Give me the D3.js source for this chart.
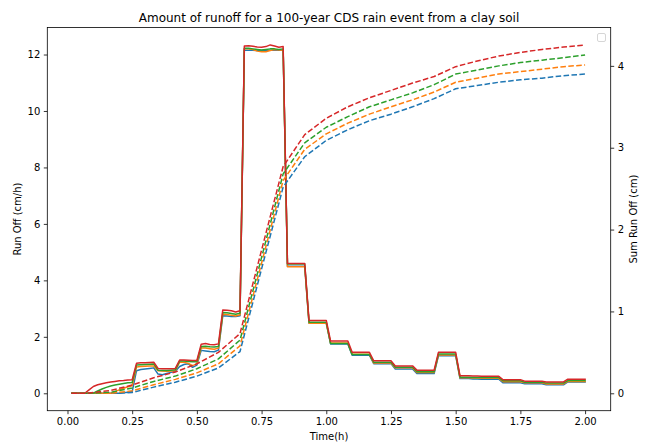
<!DOCTYPE html>
<html><head><meta charset="utf-8">
<script src="https://cdn.jsdelivr.net/npm/d3@7"></script>
<style>
body{margin:0;background:#fff}
svg{display:block}
text{font-family:"DejaVu Sans",sans-serif;fill:#000}
</style>
</head><body>
<svg id="chart" width="657" height="446"></svg>
<script>
// ---------- data ----------
const titleText = "Amount of runoff for a 100-year CDS rain event from a clay soil";
// simulation time (h): one-minute steps
const times = d3.range(1, 121).map(i => i / 60);
// cumulative values are read at 5-minute block ends
const sumTimes = [1/60, 1/12, 2/12, 3/12, 4/12, 5/12, 6/12, 7/12, 8/12, 9/12, 10/12, 11/12, 1,
  13/12, 14/12, 15/12, 16/12, 17/12, 18/12, 19/12, 20/12, 21/12, 22/12, 23/12, 2];
const xTicks = [0, 0.25, 0.5, 0.75, 1.0, 1.25, 1.5, 1.75, 2.0];
const yLeftTicks = [0, 2, 4, 6, 8, 10, 12];
const yRightTicks = [0, 1, 2, 3, 4];

// Run off (cm/h)
const runoffBlue = [
  0,0,0,0,0,0,0,0,0,0,0,0,0.02,0.04,0.06,
  0.8,0.84,0.86,0.88,0.9,
  0.68,0.66,0.7,0.74,0.78,
  0.95,1.02,1.05,0.92,1.0,
  1.52,1.5,1.48,1.47,1.53,
  2.75,2.74,2.72,2.72,2.75,
  12.15,12.15,12.15,12.14,12.14,12.15,12.15,12.16,12.15,12.15,
  4.5,4.5,4.5,4.5,4.5,
  2.48,2.48,2.48,2.48,2.48,
  1.75,1.75,1.75,1.75,1.75,
  1.35,1.35,1.35,1.35,1.35,
  1.05,1.05,1.05,1.05,1.05,
  0.86,0.86,0.86,0.86,0.86,
  0.7,0.7,0.7,0.7,0.7,
  1.33,1.33,1.33,1.33,1.33,
  0.52,0.52,0.52,0.51,0.51,
  0.5,0.5,0.5,0.5,0.5,
  0.37,0.37,0.37,0.37,0.37,
  0.34,0.34,0.34,0.34,0.34,
  0.3,0.3,0.3,0.3,0.3,
  0.4,0.4,0.4,0.4,0.4
];
const runoffOrange = [
  0,0,0,0,0,0,0,0,0,0,0.06,0.12,0.18,0.23,0.27,
  0.93,0.95,0.96,0.97,0.97,
  0.8,0.79,0.78,0.79,0.8,
  1.1,1.1,1.06,0.98,1.04,
  1.6,1.6,1.58,1.56,1.6,
  2.8,2.79,2.76,2.74,2.78,
  12.2,12.2,12.18,12.12,12.1,12.1,12.14,12.18,12.16,12.15,
  4.48,4.48,4.48,4.48,4.48,
  2.48,2.48,2.48,2.48,2.48,
  1.78,1.78,1.78,1.78,1.78,
  1.38,1.38,1.38,1.38,1.38,
  1.07,1.07,1.07,1.07,1.07,
  0.9,0.9,0.9,0.9,0.9,
  0.74,0.74,0.74,0.74,0.74,
  1.36,1.36,1.36,1.36,1.36,
  0.55,0.55,0.55,0.54,0.54,
  0.53,0.53,0.53,0.53,0.53,
  0.41,0.41,0.41,0.41,0.41,
  0.37,0.37,0.37,0.37,0.37,
  0.33,0.33,0.33,0.33,0.33,
  0.42,0.42,0.42,0.42,0.42
];
const runoffGreen = [
  0,0,0,0,0,0,0.08,0.15,0.21,0.26,0.29,0.32,0.35,0.37,0.38,
  1.0,1.01,1.02,1.03,1.04,
  0.82,0.81,0.81,0.82,0.83,
  1.14,1.14,1.13,1.12,1.12,
  1.66,1.67,1.65,1.64,1.66,
  2.86,2.85,2.83,2.8,2.84,
  12.22,12.22,12.2,12.18,12.16,12.18,12.2,12.2,12.18,12.2,
  4.58,4.58,4.58,4.58,4.58,
  2.52,2.52,2.52,2.52,2.52,
  1.76,1.76,1.76,1.76,1.76,
  1.37,1.37,1.37,1.37,1.37,
  1.1,1.1,1.1,1.1,1.1,
  0.92,0.92,0.92,0.92,0.92,
  0.76,0.76,0.76,0.76,0.76,
  1.39,1.39,1.39,1.39,1.39,
  0.57,0.57,0.57,0.56,0.56,
  0.56,0.56,0.56,0.56,0.56,
  0.44,0.44,0.44,0.44,0.44,
  0.39,0.39,0.39,0.39,0.39,
  0.36,0.36,0.36,0.36,0.36,
  0.45,0.45,0.45,0.45,0.45
];
const runoffRed = [
  0,0,0,0,0.12,0.24,0.3,0.34,0.37,0.4,0.42,0.44,0.45,0.47,0.48,
  1.06,1.08,1.08,1.09,1.1,
  0.88,0.87,0.87,0.87,0.88,
  1.18,1.18,1.17,1.16,1.16,
  1.74,1.76,1.73,1.72,1.75,
  2.95,2.94,2.92,2.88,2.92,
  12.3,12.31,12.29,12.27,12.26,12.28,12.34,12.3,12.26,12.28,
  4.6,4.6,4.6,4.6,4.6,
  2.58,2.58,2.58,2.58,2.58,
  1.85,1.85,1.85,1.85,1.85,
  1.45,1.45,1.45,1.45,1.45,
  1.15,1.15,1.15,1.15,1.15,
  0.97,0.97,0.97,0.97,0.97,
  0.82,0.82,0.82,0.82,0.82,
  1.45,1.45,1.45,1.45,1.45,
  0.62,0.62,0.62,0.61,0.61,
  0.6,0.6,0.6,0.6,0.6,
  0.48,0.48,0.48,0.48,0.48,
  0.43,0.43,0.43,0.43,0.43,
  0.4,0.4,0.4,0.4,0.4,
  0.5,0.5,0.5,0.5,0.5
];

// Sum Run Off (cm)
const sumBlue   = [0,0,0,0.01,0.075,0.135,0.21,0.31,0.51,1.52,2.52,2.89,3.09,3.22,3.33,3.41,3.5,3.6,3.72,3.76,3.8,3.83,3.85,3.88,3.9];
const sumOrange = [0,0,0,0.03,0.105,0.17,0.25,0.36,0.58,1.59,2.6,2.98,3.17,3.3,3.41,3.5,3.585,3.68,3.8,3.85,3.9,3.93,3.96,3.99,4.012];
const sumGreen  = [0,0,0.012,0.065,0.145,0.21,0.3,0.42,0.65,1.66,2.68,3.06,3.25,3.38,3.5,3.585,3.67,3.77,3.9,3.95,4.0,4.04,4.07,4.1,4.134];
const sumRed    = [0,0.002,0.035,0.1,0.19,0.26,0.36,0.5,0.73,1.75,2.77,3.16,3.36,3.5,3.61,3.7,3.79,3.87,3.99,4.06,4.12,4.165,4.2,4.23,4.256];

const colors = ["#1f77b4", "#ff7f0e", "#2ca02c", "#d62728"];
const runoffSeries = [runoffBlue, runoffOrange, runoffGreen, runoffRed];
const sumSeries = [sumBlue, sumOrange, sumGreen, sumRed];

// ---------- layout ----------
const L = 47.3, R = 610.7, T = 27.5, B = 410.7;
const svg = d3.select("#chart");

function padded(lo, hi) { const m = (hi - lo) * 0.05; return [lo - m, hi + m]; }

const x = d3.scaleLinear().domain([-0.078, 2.099]).range([L, R]);
const yL = d3.scaleLinear()
  .domain(padded(d3.min(runoffSeries.flat()), d3.max(runoffSeries.flat())))
  .range([B, T]);
const yR = d3.scaleLinear()
  .domain(padded(d3.min(sumSeries.flat()), d3.max(sumSeries.flat())))
  .range([B, T]);

svg.append("defs").append("clipPath").attr("id", "clip")
  .append("rect").attr("x", L).attr("y", T).attr("width", R - L).attr("height", B - T);

const plot = svg.append("g").attr("clip-path", "url(#clip)");

const solidLine = d3.line().x((d, i) => x(times[i])).y(d => yL(d));
runoffSeries.forEach((s, k) => {
  plot.append("path").datum(s)
    .attr("d", solidLine)
    .attr("fill", "none")
    .attr("stroke", colors[k])
    .attr("stroke-width", 1.5)
    .attr("stroke-linejoin", "round")
    .attr("stroke-linecap", "square");
});

const dashLine = d3.line().x((d, i) => x(sumTimes[i])).y(d => yR(d));
sumSeries.forEach((s, k) => {
  plot.append("path").datum(s)
    .attr("d", dashLine)
    .attr("fill", "none")
    .attr("stroke", colors[k])
    .attr("stroke-width", 1.5)
    .attr("stroke-dasharray", "5.55,2.4")
    .attr("stroke-linejoin", "round");
});

// ---------- axes ----------
function styleAxis(g) {
  g.select(".domain").remove();
  g.selectAll(".tick line").attr("stroke", "#000").attr("stroke-width", 0.8);
  g.selectAll(".tick text").attr("font-size", 10).attr("font-family", "DejaVu Sans").attr("fill", "#000");
}

svg.append("g").attr("transform", `translate(0,${B})`)
  .call(d3.axisBottom(x).tickValues(xTicks).tickFormat(d3.format(".2f")).tickSizeOuter(0).tickSize(3.5).tickPadding(3.5))
  .call(styleAxis);

svg.append("g").attr("transform", `translate(${L},0)`)
  .call(d3.axisLeft(yL).tickValues(yLeftTicks).tickFormat(d3.format("d")).tickSizeOuter(0).tickSize(3.5).tickPadding(3.5))
  .call(styleAxis);

svg.append("g").attr("transform", `translate(${R},0)`)
  .call(d3.axisRight(yR).tickValues(yRightTicks).tickFormat(d3.format("d")).tickSizeOuter(0).tickSize(3.5).tickPadding(3.5))
  .call(styleAxis);

// spines
svg.append("rect").attr("x", L).attr("y", T).attr("width", R - L).attr("height", B - T)
  .attr("fill", "none").attr("stroke", "#000").attr("stroke-width", 0.8);

// empty legend frame
svg.append("rect").attr("x", 597.5).attr("y", 33.5).attr("width", 8).attr("height", 8)
  .attr("rx", 1.5).attr("fill", "#fff").attr("fill-opacity", 0.8)
  .attr("stroke", "#cccccc").attr("stroke-width", 0.8);

// ---------- text ----------
svg.append("text").attr("x", (L + R) / 2).attr("y", 21.5)
  .attr("text-anchor", "middle").attr("font-size", 12).text(titleText);

svg.append("text").attr("x", (L + R) / 2).attr("y", 439.5)
  .attr("text-anchor", "middle").attr("font-size", 10).text("Time(h)");

svg.append("text").attr("transform", `translate(21,${(T + B) / 2}) rotate(-90)`)
  .attr("text-anchor", "middle").attr("font-size", 10).text("Run Off (cm/h)");

svg.append("text").attr("transform", `translate(636.5,${(T + B) / 2}) rotate(-90)`)
  .attr("text-anchor", "middle").attr("font-size", 10).text("Sum Run Off (cm)");
</script>
</body></html>
